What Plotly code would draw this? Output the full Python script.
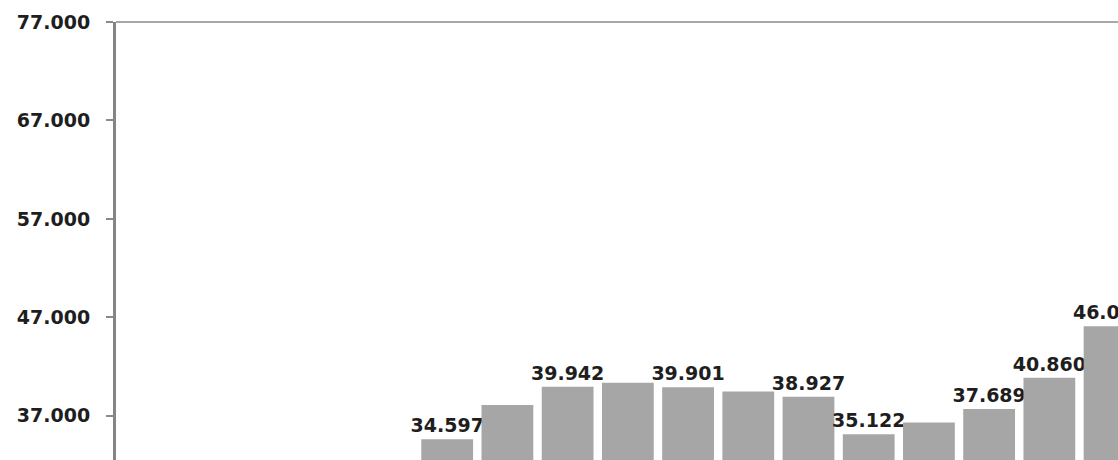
import plotly.graph_objects as go

# Data (values below the visible range are not shown)
categories = ["P1", "P2", "P3", "P4", "P5", "P6", "P7", "P8", "P9", "P10", "P11", "P12"]
values = [34597, 38100, 39942, 40350, 39901, 39470, 38927, 35122, 36300, 37689, 40860, 46080]
labeled = [True, False, True, False, True, False, True, True, False, True, True, True]
tick_values = [37000, 47000, 57000, 67000, 77000]

texts = [f"{v:,}".replace(",", ".") if show else "" for v, show in zip(values, labeled)]

fig = go.Figure()
fig.add_trace(go.Bar(
    x=list(range(len(categories))),
    y=values,
    text=texts,
    textposition="outside",
    constraintext="none",
    cliponaxis=False,
    width=0.86,
    marker=dict(color="#a6a6a6", line=dict(width=0)),
    textfont=dict(family="DejaVu Sans", size=19, color="#1e1e1e", weight="bold"),
    hoverinfo="skip",
))

fig.update_layout(
    width=1118, height=460,
    margin=dict(l=116, r=0, t=22, b=0),
    paper_bgcolor="white", plot_bgcolor="white",
    showlegend=False,
    bargap=0.14,
    font=dict(family="DejaVu Sans", size=19, color="#1e1e1e"),
)
fig.update_xaxes(
    range=[-5.5, 11.14],
    showticklabels=False, showgrid=False, zeroline=False, showline=False, ticks="",
    tickmode="array", tickvals=list(range(len(categories))), ticktext=categories,
)
fig.update_yaxes(
    range=[32500, 77000],
    tickmode="array", tickvals=tick_values,
    ticktext=[f"{t:,}".replace(",", ".") for t in tick_values],
    tickfont=dict(family="DejaVu Sans", size=19, color="#1e1e1e", weight="bold"),
    ticks="outside", ticklen=7, tickwidth=2, tickcolor="#8a8a8a",
    ticklabelstandoff=12,
    showline=True, linewidth=3, linecolor="#858585",
    showgrid=False, zeroline=False,
)
# top border line of the plot area
fig.add_shape(type="line", xref="paper", yref="paper", x0=0, x1=1, y0=1, y1=1,
              line=dict(color="#a8a8a8", width=2))

fig.write_html("out.html")
